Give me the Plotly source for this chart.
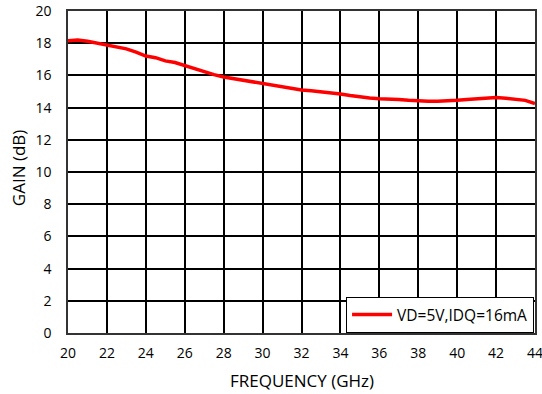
import plotly.graph_objects as go

freq_ghz = [20.0, 20.5, 21.0, 21.5, 22.0, 22.5, 23.0, 23.5, 24.0, 24.5, 25.0, 25.5,
            26.0, 26.5, 27.0, 27.5, 28.0, 28.5, 29.0, 29.5, 30.0, 30.5, 31.0, 31.5,
            32.0, 32.5, 33.0, 33.5, 34.0, 34.5, 35.0, 35.5, 36.0, 36.5, 37.0, 37.5,
            38.0, 38.5, 39.0, 39.5, 40.0, 40.5, 41.0, 41.5, 42.0, 42.5, 43.0, 43.5, 44.0]
gain_db = [18.15, 18.2, 18.12, 18.0, 17.9, 17.75, 17.65, 17.45, 17.2, 17.1, 16.9, 16.8,
           16.6, 16.4, 16.2, 16.05, 15.9, 15.8, 15.7, 15.55, 15.45, 15.35, 15.3, 15.2,
           15.1, 15.05, 15.0, 14.95, 14.85, 14.75, 14.65, 14.6, 14.55, 14.55, 14.5, 14.45,
           14.4, 14.4, 14.4, 14.4, 14.45, 14.5, 14.55, 14.6, 14.62, 14.58, 14.52, 14.45, 14.25]
series_name = "VD=5V,IDQ=16mA"
x_title = "FREQUENCY (GHz)"
y_title = "GAIN (dB)"

fig = go.Figure()
fig.add_trace(go.Scatter(x=freq_ghz, y=gain_db, mode="lines", name=series_name,
                         line=dict(color="#ff0000", width=3.5)))

axis_common = dict(showgrid=True, gridcolor="#000000", gridwidth=1.5,
                   showline=True, linecolor="#333333", linewidth=1.5, mirror=True,
                   zeroline=False, ticks="", automargin=False, ticklabeloverflow="allow",
                   tickfont=dict(family="Open Sans", size=14, color="#000000"))

fig.update_layout(
    width=542, height=394,
    margin=dict(l=68, r=7, t=11, b=61),
    paper_bgcolor="white", plot_bgcolor="white",
    font=dict(family="Open Sans", color="#000000"),
    xaxis=dict(range=[20, 44], dtick=2, tick0=20, ticklabelstandoff=6, **axis_common),
    yaxis=dict(range=[0, 20], dtick=2, tick0=0, ticklabelstandoff=12, **axis_common),
    showlegend=True,
    legend=dict(x=0.998, y=0.0, xanchor="right", yanchor="bottom",
                bgcolor="white", bordercolor="#000000", borderwidth=1,
                itemwidth=40, tracegroupgap=0,
                font=dict(family="Open Sans", size=15.5, color="#000000")),
    annotations=[
        dict(text=x_title, xref="paper", yref="paper", x=0.5, y=-0.149,
             xanchor="center", yanchor="middle", showarrow=False,
             font=dict(family="Open Sans", size=17, color="#000000")),
        dict(text=y_title, xref="paper", yref="paper", x=-0.107, y=0.512,
             xanchor="center", yanchor="middle", textangle=-90, showarrow=False,
             font=dict(family="Open Sans", size=17, color="#000000")),
    ],
)

fig.write_html("out.html", config={"displayModeBar": False},
               post_script="document.body.style.margin='0';")
